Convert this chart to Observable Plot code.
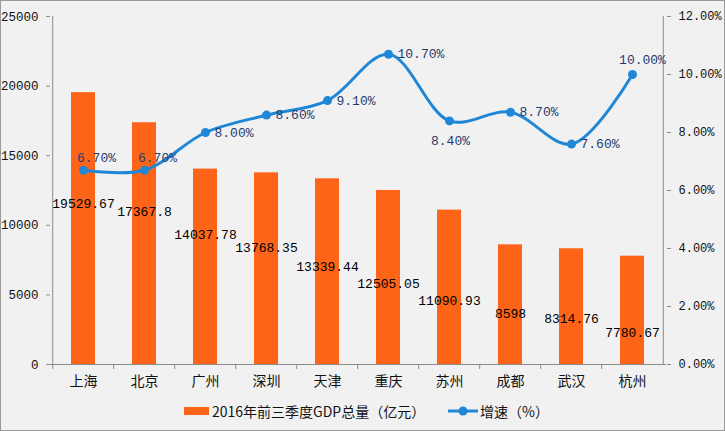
<!DOCTYPE html>
<html>
<head>
<meta charset="utf-8">
<script src="https://cdn.jsdelivr.net/npm/d3@7"></script>
<script src="https://cdn.jsdelivr.net/npm/@observablehq/plot@0.6"></script>
<style>
  html, body { margin: 0; padding: 0; }
  body { width: 725px; height: 431px; background: #f1f1f1; position: relative; overflow: hidden; }
  #frame { position: absolute; left: 0; top: 0; width: 725px; height: 431px; box-sizing: border-box; border: 1px solid #9a9a9a; pointer-events: none; }
  #chart { position: absolute; left: 0; top: 0; }
  #legend { position: absolute; left: 0; top: 395px; width: 725px; height: 36px; font-family: "Noto Sans CJK SC", sans-serif; font-size: 14px; color: #111; }
  .sw { position: absolute; }
  .lt { position: absolute; top: 6px; line-height: 20px; white-space: nowrap; }
  svg [aria-label="y-axis tick"], svg [aria-label="x-axis tick"] { stroke: #8c8c8c; }
</style>
</head>
<body>
<div id="chart"></div>
<div id="legend"></div>
<div id="frame"></div>
<script>
const cities = ["上海", "北京", "广州", "深圳", "天津", "重庆", "苏州", "成都", "武汉", "杭州"];
const gdp = [19529.67, 17367.8, 14037.78, 13768.35, 13339.44, 12505.05, 11090.93, 8598, 8314.76, 7780.67];
const growth = [6.7, 6.7, 8.0, 8.6, 9.1, 10.7, 8.4, 8.7, 7.6, 10.0];
const gdpTicks = [0, 5000, 10000, 15000, 20000, 25000];
const growthTicks = [0, 2, 4, 6, 8, 10, 12];
const seriesNames = ["2016年前三季度GDP总量（亿元）", "增速（%）"];

const gdpMax = 25000, growthMax = 12;
const k = gdpMax / growthMax; // map growth (%) onto the GDP axis
const rows = cities.map((c, i) => ({ city: c, gdp: gdp[i], g: growth[i], gy: growth[i] * k, i }));

const W = 725, H = 395, mL = 50, mR = 59, mT = 16, mB = 31;
const half = (W - mL - mR) / cities.length / 2;

const barColor = "#fd6418";
const lineColor = "#1f87d6";
const pctColor = "#1f3c6e";
const mono = "'Liberation Mono', 'DejaVu Sans Mono', monospace";

// value-label placement (as in the source, labels are staggered, not on bar tops)
const barLabelAt = [11566, 10991, 9339, 8405, 7040, 5819, 4598, 3664, 3305, 2299];
const above = new Set(["上海", "北京"]);
const aboveEnd = new Set(["杭州"]);
const below = new Set(["苏州"]);

const chart = Plot.plot({
  width: W, height: H,
  marginLeft: mL, marginRight: mR, marginTop: mT, marginBottom: mB,
  style: { background: "transparent", overflow: "visible" },
  x: { domain: cities, paddingInner: 0.6, paddingOuter: 0.3, axis: null },
  y: { domain: [0, gdpMax], axis: null },
  marks: [
    Plot.barY(rows, { x: "city", y: "gdp", fill: barColor }),
    // axis lines
    Plot.ruleY([0], { stroke: "#8c8c8c" }),
    Plot.ruleX([cities[0]], { dx: -half, stroke: "#8c8c8c" }),
    Plot.ruleX([cities[cities.length - 1]], { dx: half, stroke: "#8c8c8c" }),
    // left axis
    Plot.axisY(gdpTicks, { anchor: "left", tickSize: 4, tickPadding: 8, label: null,
      tickFormat: d => String(d), fontSize: 12.5, fontFamily: mono, fill: "#111" }),
    // right axis
    Plot.axisY(growthTicks.map(v => v * k), { anchor: "right", tickSize: 4, tickPadding: 8, label: null,
      tickFormat: d => (d / k).toFixed(2) + "%", fontSize: 12, fontFamily: mono, fill: "#111" }),
    // x boundary ticks
    Plot.axisX(cities, { tickSize: 5, dx: -half, tickFormat: () => "", label: null }),
    // x labels
    Plot.axisX(cities, { tickSize: 0, tickPadding: 12, label: null, fontSize: 14,
      fontFamily: "'Noto Sans CJK SC', sans-serif", fill: "#111" }),
    // bar value labels
    Plot.text(rows, { x: "city", y: d => barLabelAt[d.i], text: d => String(d.gdp),
      fontSize: 13, fontFamily: mono, fill: "#000" }),
    // growth line
    Plot.line(rows, { x: "city", y: "gy", stroke: lineColor, strokeWidth: 3, curve: "catmull-rom" }),
    Plot.dot(rows, { x: "city", y: "gy", r: 4.5, fill: lineColor, stroke: "none" }),
    // growth labels
    Plot.text(rows.filter(d => above.has(d.city)), { x: "city", y: "gy", text: d => d.g.toFixed(2) + "%",
      dx: 13, dy: -12, fontSize: 13, fontFamily: mono, fill: pctColor }),
    Plot.text(rows.filter(d => aboveEnd.has(d.city)), { x: "city", y: "gy", text: d => d.g.toFixed(2) + "%",
      dx: 10, dy: -15, fontSize: 13, fontFamily: mono, fill: pctColor }),
    Plot.text(rows.filter(d => below.has(d.city)), { x: "city", y: "gy", text: d => d.g.toFixed(2) + "%",
      dx: 1, dy: 20, fontSize: 13, fontFamily: mono, fill: pctColor }),
    Plot.text(rows.filter(d => !above.has(d.city) && !aboveEnd.has(d.city) && !below.has(d.city)),
      { x: "city", y: "gy", text: d => d.g.toFixed(2) + "%", textAnchor: "start",
        dx: 9, fontSize: 13, fontFamily: mono, fill: pctColor })
  ]
});
document.getElementById("chart").appendChild(chart);

// legend
const lg = document.getElementById("legend");
lg.innerHTML = `
  <div class="sw" style="left:184px; top:12px; width:25px; height:8px; background:${barColor}"></div>
  <div class="lt" style="left:212px;">${seriesNames[0]}</div>
  <svg class="sw" style="left:448px; top:8px;" width="30" height="16">
    <line x1="0" y1="8" x2="30" y2="8" stroke="${lineColor}" stroke-width="3"/>
    <circle cx="15" cy="8" r="4.5" fill="${lineColor}"/>
  </svg>
  <div class="lt" style="left:480px;">${seriesNames[1]}</div>`;
</script>
</body>
</html>
